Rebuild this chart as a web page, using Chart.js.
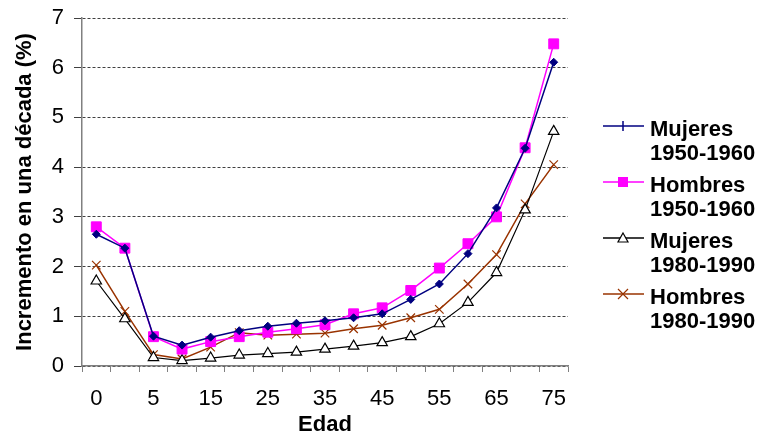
<!DOCTYPE html>
<html>
<head>
<meta charset="utf-8">
<script src="https://cdn.jsdelivr.net/npm/chart.js@4/dist/chart.umd.min.js"></script>
<style>
  html, body { margin: 0; padding: 0; background: #fff; }
  #wrap { position: relative; width: 760px; height: 434px; }
  #legend { position: absolute; left: 603px; top: 117px; font-family: "Liberation Sans", Arial, sans-serif; font-weight: bold; font-size: 22px; line-height: 24px; color: #000; white-space: nowrap; }
  .item { position: relative; padding-left: 47px; margin-bottom: 8px; }
  .item svg { position: absolute; left: 0; top: -1px; }
</style>
</head>
<body>
<div id="wrap">
  <canvas id="c" width="760" height="434"></canvas>
  <div id="legend"></div>
</div>
<script>
const categories = ['0','1','5','10','15','20','25','30','35','40','45','50','55','60','65','70','75'];
const tickLabels = ['0','','5','','15','','25','','35','','45','','55','','65','','75'];
const mujeres1950 = [2.65, 2.37, 0.60, 0.42, 0.58, 0.71, 0.80, 0.86, 0.91, 0.97, 1.05, 1.34, 1.65, 2.26, 3.18, 4.38, 6.11];
const hombres1950 = [2.80, 2.37, 0.59, 0.34, 0.49, 0.59, 0.68, 0.75, 0.83, 1.05, 1.17, 1.52, 1.97, 2.46, 3.00, 4.39, 6.48];
const mujeres1980 = [1.71, 0.95, 0.17, 0.11, 0.16, 0.22, 0.25, 0.28, 0.34, 0.40, 0.47, 0.59, 0.85, 1.28, 1.88, 3.14, 4.72];
const hombres1980 = [2.03, 1.10, 0.23, 0.14, 0.38, 0.67, 0.62, 0.64, 0.66, 0.75, 0.82, 0.97, 1.14, 1.65, 2.24, 3.26, 4.05];
const seriesNames = [['Mujeres','1950-1960'],['Hombres','1950-1960'],['Mujeres','1980-1990'],['Hombres','1980-1990']];

const FONT = '"Liberation Sans", Arial, sans-serif';

const datasets = [
  { label: 'Mujeres 1950-1960', data: mujeres1950, borderColor: '#000080', backgroundColor: '#000080',
    pointStyle: 'rectRot', pointRadius: 4, borderWidth: 1.5, pointBorderWidth: 1 },
  { label: 'Hombres 1950-1960', data: hombres1950, borderColor: '#FF00FF', backgroundColor: '#FF00FF',
    pointStyle: 'rect', pointRadius: 7, borderWidth: 1.5, pointBorderWidth: 1 },
  { label: 'Mujeres 1980-1990', data: mujeres1980, borderColor: '#000000', backgroundColor: '#FFFFFF',
    pointStyle: 'triangle', pointRadius: 6, borderWidth: 1.2, pointBorderWidth: 1.2 },
  { label: 'Hombres 1980-1990', data: hombres1980, borderColor: '#993300', backgroundColor: '#993300',
    pointStyle: 'crossRot', pointRadius: 6, borderWidth: 1.5, pointBorderWidth: 1.2 }
];
datasets.forEach(d => { d.tension = 0; d.fill = false; d.pointHoverRadius = d.pointRadius; });

new Chart(document.getElementById('c'), {
  type: 'line',
  data: { labels: categories, datasets: datasets },
  options: {
    responsive: false,
    animation: false,
    events: [],
    layout: { padding: { top: 18, right: 192, bottom: 0, left: 0 } },
    plugins: { legend: { display: false }, tooltip: { enabled: false } },
    scales: {
      x: {
        offset: true,
        grid: { display: true, offset: true, drawOnChartArea: false, color: '#808080', tickLength: 6, lineWidth: 1 },
        border: { display: true, color: '#808080', width: 1.5 },
        ticks: { autoSkip: false, maxRotation: 0, padding: 14, color: '#000', font: { family: FONT, size: 22 },
          callback: (v, i) => tickLabels[i] },
        title: { display: true, text: 'Edad', color: '#000', font: { family: FONT, size: 22, weight: 'bold', lineHeight: 0.8 }, padding: { top: 0, bottom: 0 } },
        afterFit: s => { s.height = 68; s.paddingLeft = 0; s.paddingRight = 0; }
      },
      y: {
        min: 0, max: 7,
        ticks: { stepSize: 1, padding: 10, color: '#000', font: { family: FONT, size: 22 } },
        grid: { color: '#404040', lineWidth: 1, tickLength: 8, tickColor: '#404040', tickBorderDash: [0, 0] },
        border: { display: true, color: '#808080', width: 1.5, dash: [3, 2] },
        title: { display: true, text: 'Incremento en una década (%)', color: '#000', font: { family: FONT, size: 22, weight: 'bold' }, padding: { top: 12, bottom: 0 } },
        afterFit: s => { s.width = 82; s.paddingTop = 0; s.paddingBottom = 0; }
      }
    }
  }
});

// HTML legend built from the datasets
const legend = document.getElementById('legend');
datasets.forEach((d, i) => {
  const item = document.createElement('div');
  item.className = 'item';
  const ns = 'http://www.w3.org/2000/svg';
  const svg = document.createElementNS(ns, 'svg');
  svg.setAttribute('width', '46'); svg.setAttribute('height', '20');
  const line = document.createElementNS(ns, 'line');
  line.setAttribute('x1', '0'); line.setAttribute('x2', '41'); line.setAttribute('y1', '10'); line.setAttribute('y2', '10');
  line.setAttribute('stroke', d.borderColor); line.setAttribute('stroke-width', '1.5');
  svg.appendChild(line);
  let m;
  if (i === 0) {
    m = document.createElementNS(ns, 'line');
    m.setAttribute('x1', '20'); m.setAttribute('x2', '20'); m.setAttribute('y1', '5'); m.setAttribute('y2', '15');
    m.setAttribute('stroke', d.borderColor); m.setAttribute('stroke-width', '1.5');
  } else if (i === 1) {
    m = document.createElementNS(ns, 'rect');
    m.setAttribute('x', '15'); m.setAttribute('y', '5'); m.setAttribute('width', '10'); m.setAttribute('height', '10');
    m.setAttribute('fill', d.borderColor);
  } else if (i === 2) {
    m = document.createElementNS(ns, 'polygon');
    m.setAttribute('points', '20,5 25,14 15,14');
    m.setAttribute('fill', '#fff'); m.setAttribute('stroke', '#000'); m.setAttribute('stroke-width', '1.2');
  } else {
    m = document.createElementNS(ns, 'path');
    m.setAttribute('d', 'M15,5 L25,15 M25,5 L15,15');
    m.setAttribute('stroke', d.borderColor); m.setAttribute('stroke-width', '1.2');
  }
  svg.appendChild(m);
  item.appendChild(svg);
  item.appendChild(document.createTextNode(seriesNames[i][0]));
  item.appendChild(document.createElement('br'));
  item.appendChild(document.createTextNode(seriesNames[i][1]));
  legend.appendChild(item);
});
</script>
</body>
</html>
